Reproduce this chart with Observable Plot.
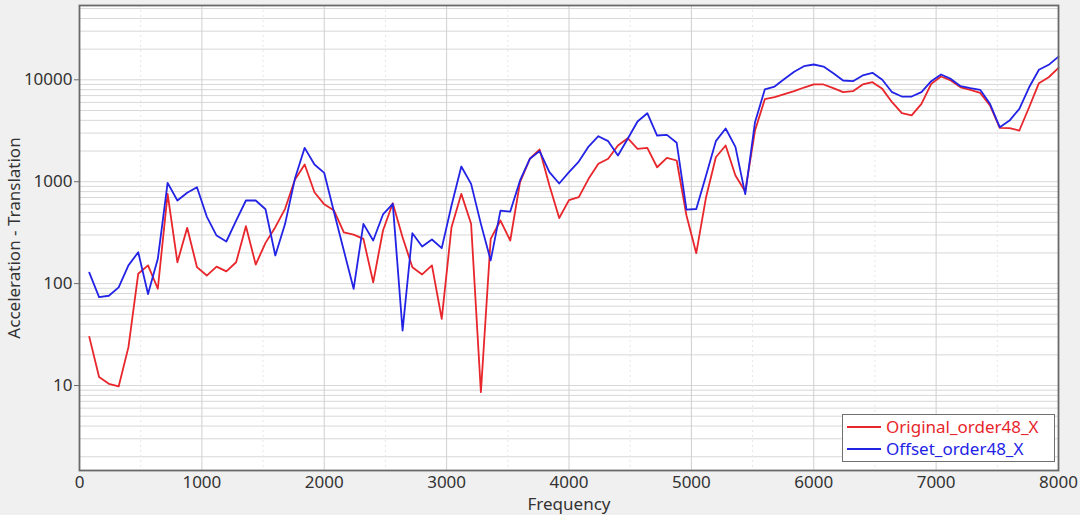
<!DOCTYPE html>
<html>
<head>
<meta charset="utf-8">
<script src="https://cdn.jsdelivr.net/npm/d3@7"></script>
<script src="https://cdn.jsdelivr.net/npm/@observablehq/plot@0.6"></script>
<style>
  html, body { margin: 0; padding: 0; background: #f0f0f0; }
  #wrap { position: relative; width: 1080px; height: 515px; overflow: hidden; }
  #legend { position: absolute; left: 842px; top: 414px; width: 211px; height: 46px;
    background: #fff; border: 1.5px solid #707070; font-family: "Noto Sans", sans-serif; font-size: 17px; }
  .item { position: absolute; left: 4px; height: 20px; line-height: 20px; white-space: nowrap; }
  .sw { display: inline-block; width: 34px; height: 2px; vertical-align: middle; margin-right: 5px; position: relative; top: -1px; }
</style>
</head>
<body>
<div id="wrap">
  <div id="chart"></div>
  <div id="legend">
    <div class="item" style="top:2px;color:#e8262b"><span class="sw" style="background:#e8262b"></span>Original_order48_X</div>
    <div class="item" style="top:24px;color:#2323e6"><span class="sw" style="background:#2323e6"></span>Offset_order48_X</div>
  </div>
</div>
<script>
const frequency = [80,160,240,320,400,480,560,640,720,800,880,960,1040,1120,1200,1280,1360,1440,1520,1600,1680,1760,1840,1920,2000,2080,2160,2240,2320,2400,2480,2560,2640,2720,2800,2880,2960,3040,3120,3200,3280,3360,3440,3520,3600,3680,3760,3840,3920,4000,4080,4160,4240,4320,4400,4480,4560,4640,4720,4800,4880,4960,5040,5120,5200,5280,5360,5440,5520,5600,5680,5760,5840,5920,6000,6080,6160,6240,6320,6400,6480,6560,6640,6720,6800,6880,6960,7040,7120,7200,7280,7360,7440,7520,7600,7680,7760,7840,7920,8000];

const original = [30,12.1,10.4,9.8,23.8,125,151,89,760,162,353,145,120,147,132,162,366,154,251,358,542,1045,1475,789,600,521,319,303,275,103,332,615,285,145,123,151,45,358,760,386,8.6,275,416,265,989,1679,2070,918,440,660,705,1067,1500,1679,2265,2673,2103,2150,1387,1717,1615,466,199,705,1738,2265,1151,800,3180,6450,6750,7250,7750,8400,9000,9000,8270,7560,7740,9000,9470,8150,6030,4700,4470,5800,9120,10780,9840,8450,7980,7450,5600,3380,3350,3180,5380,9270,10600,13100];

const offset = [128,73.6,76,92,151,203,79,175,975,654,778,883,455,296,259,416,654,654,537,189,386,1067,2150,1475,1220,502,211,89,386,265,477,607,34.6,312,231,271,223,584,1410,953,386,169,521,509,1028,1679,1995,1240,960,1240,1578,2215,2797,2500,1807,2637,3900,4700,2840,2880,2410,533,540,1151,2500,3330,2200,755,3840,8040,8590,10200,12000,13600,14130,13500,11600,9840,9700,11030,11700,10000,7560,6850,6850,7560,9700,11270,10200,8650,8270,7980,5810,3430,3980,5190,8450,12540,14030,16900];

const seriesNames = ["Original_order48_X", "Offset_order48_X"];
const colors = ["#e8262b", "#2323e6"];
const xTicks = [0,1000,2000,3000,4000,5000,6000,7000,8000];
const yTicks = [10,100,1000,10000];

const rows = [];
frequency.forEach((f, i) => {
  rows.push({f, v: original[i], s: seriesNames[0]});
  rows.push({f, v: offset[i], s: seriesNames[1]});
});

const yMinor = [];
[1,10,100,1000,10000].forEach(d => { for (let m = 1; m <= 9; m++) { const v = m*d; if (v > 1.47 && v < 53000) yMinor.push(v); } });
const xMinor = [500,1500,2500,3500,4500,5500,6500,7500];

const chart = Plot.plot({
  width: 1080,
  height: 515,
  marginLeft: 79,
  marginRight: 22,
  marginTop: 5,
  marginBottom: 45,
  style: { fontFamily: "Noto Sans, sans-serif", fontSize: "17px", color: "#333", background: "transparent", overflow: "visible" },
  x: { domain: [0, 8000] },
  y: { type: "log", domain: [1.466, 53600] },
  color: { domain: seriesNames, range: colors },
  marks: [
    Plot.frame({ fill: "white", stroke: "none" }),
    Plot.ruleY(yMinor, { stroke: "#d8d8d8", strokeWidth: 1 }),
    Plot.ruleX(xMinor, { stroke: "#e6e6e6", strokeDasharray: "2,3" }),
    Plot.ruleX(xTicks, { stroke: "#cfcfcf", strokeWidth: 1 }),
    Plot.line(rows, { x: "f", y: "v", z: "s", stroke: "s", strokeWidth: 1.8 }),
    Plot.frame({ stroke: "#6a6a6a", strokeWidth: 1.8 }),
    Plot.axisY({ ticks: yTicks, tickFormat: d => String(d), tickSize: 5, tickPadding: 2, stroke: "#6a6a6a",
      label: "Acceleration - Translation", labelAnchor: "center", labelArrow: "none", labelOffset: 72 }),
    Plot.axisX({ ticks: xTicks, tickFormat: d => String(d), tickSize: 0, tickPadding: 5,
      label: "Frequency", labelAnchor: "center", labelArrow: "none", labelOffset: 39 })
  ]
});
document.getElementById("chart").appendChild(chart);
</script>
</body>
</html>
